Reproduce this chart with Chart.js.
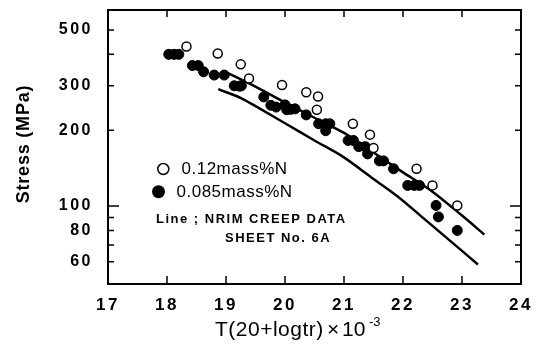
<!DOCTYPE html>
<html>
<head>
<meta charset="utf-8">
<script src="https://cdn.jsdelivr.net/npm/chart.js@4"></script>
<style>
  html, body { margin: 0; padding: 0; background: #fff; }
  #wrap { width: 540px; height: 345px; }
</style>
</head>
<body>
<div id="wrap"><canvas id="creepChart"></canvas></div>
<script>
// 0.12mass%N (open circles)
const openX = [18.33, 18.86, 19.25, 19.39, 19.95, 20.36, 20.56, 20.54, 21.15, 21.44, 21.5, 22.23, 22.5, 22.92];
const openY = [430, 403, 365, 321, 302, 283, 272, 241, 212, 192, 170, 140.5, 120.7, 100.5];

// 0.085mass%N (filled circles)
const filledX = [18.03, 18.12, 18.2, 18.43, 18.53, 18.62, 18.8, 18.97, 19.14, 19.23, 19.26, 19.64, 19.76, 19.85,
    20.0, 20.03, 20.1, 20.17, 20.36, 20.57, 20.69, 20.76, 20.69, 21.07, 21.16, 21.25, 21.36, 21.4,
    21.6, 21.67, 21.84, 22.08, 22.19, 22.28, 22.56, 22.6, 22.92];
const filledY = [400, 400, 400, 361, 361, 341, 331, 331, 300, 299, 300, 271, 251, 247,
    252, 241, 242, 243, 230, 212, 212, 212, 199, 182, 182, 172, 172, 161,
    151, 151, 140.5, 120.7, 120.7, 120.7, 100.5, 90.5, 80];

// NRIM creep data sheet No. 6A lines
const upperX = [18.95, 19.35, 20.0, 20.5, 21.0, 21.5, 22.0, 22.5, 23.0, 23.38];
const upperY = [344, 310, 258, 224, 195, 163, 136, 114, 91.6, 77];
const lowerX = [18.87, 19.27, 20.0, 20.5, 20.98, 21.5, 21.92, 22.29, 22.8, 23.27];
const lowerY = [291, 267, 213, 182, 157, 128, 108.6, 91.8, 72.7, 58.6];

const xTicks = [17, 18, 19, 20, 21, 22, 23, 24];
const yTicks = [60, 70, 80, 90, 100, 200, 300, 400, 500];
const yLabeled = [60, 80, 100, 200, 300, 500];

const FONT = "'Liberation Sans', Arial, sans-serif";

function pts(xs, ys) {
    return xs.map((x, i) => ({ x: x, y: ys[i] }));
}

const frameAndNotes = {
    id: "frameAndNotes",
    beforeDraw(chart) {
        chart.ctx.letterSpacing = "2.5px";
    },
    afterDraw(chart) {
        const ctx = chart.ctx;
        const a = chart.chartArea;
        const xs = chart.scales.x;
        const ys = chart.scales.y;
        ctx.letterSpacing = "0px";
        ctx.save();
        ctx.strokeStyle = "#000";
        ctx.lineWidth = 2;
        ctx.strokeRect(a.left, a.top, a.right - a.left, a.bottom - a.top);

        // inward ticks
        ctx.lineWidth = 1.5;
        ctx.beginPath();
        xTicks.forEach(v => {
            const px = xs.getPixelForValue(v);
            ctx.moveTo(px, a.bottom); ctx.lineTo(px, a.bottom - 8);
            ctx.moveTo(px, a.top); ctx.lineTo(px, a.top + 7);
        });
        yTicks.forEach(v => {
            const py = ys.getPixelForValue(v);
            const len = v === 100 ? 11 : 6;
            ctx.moveTo(a.left, py); ctx.lineTo(a.left + len, py);
            ctx.moveTo(a.right, py); ctx.lineTo(a.right - len, py);
        });
        ctx.stroke();

        // legend
        ctx.beginPath();
        ctx.arc(163.3, 169, 5.5, 0, Math.PI * 2);
        ctx.fillStyle = "#fff";
        ctx.fill();
        ctx.lineWidth = 1.5;
        ctx.stroke();
        ctx.beginPath();
        ctx.arc(158.5, 191.7, 6.5, 0, Math.PI * 2);
        ctx.fillStyle = "#000";
        ctx.fill();

        ctx.fillStyle = "#000";
        ctx.textAlign = "left";
        ctx.textBaseline = "middle";
        ctx.letterSpacing = "0.5px";
        ctx.font = "17px " + FONT;
        ctx.fillText("0.12mass%N", 181.5, 169.5);
        ctx.fillText("0.085mass%N", 176.5, 192);
        ctx.letterSpacing = "1.5px";
        ctx.font = "bold 13px " + FONT;
        ctx.fillText("Line ; NRIM CREEP DATA", 156, 219.5);
        ctx.fillText("SHEET No. 6A", 225, 238.5);

        // x axis title with superscript
        ctx.textBaseline = "alphabetic";
        ctx.letterSpacing = "0.5px";
        ctx.font = "21px " + FONT;
        ctx.fillText("T(20+logtr)", 215, 336);
        ctx.letterSpacing = "0px";
        ctx.fillText("\u00d7", 327, 336);
        ctx.fillText("10", 342, 336);
        ctx.font = "13px " + FONT;
        ctx.fillText("-3", 369, 326);

        // y axis title
        ctx.save();
        ctx.translate(24, 144);
        ctx.rotate(-Math.PI / 2);
        ctx.textAlign = "center";
        ctx.textBaseline = "middle";
        ctx.letterSpacing = "0.8px";
        ctx.font = "bold 18px " + FONT;
        ctx.fillText("Stress (MPa)", 0, 0);
        ctx.restore();

        ctx.restore();
    }
};

const creepChart = new Chart(document.getElementById("creepChart"), {
    type: "scatter",
    data: {
        datasets: [
            {
                label: "0.12mass%N",
                data: pts(openX, openY),
                backgroundColor: "#fff",
                borderColor: "#000",
                borderWidth: 1.5,
                pointRadius: 4.5,
            },
            {
                label: "0.085mass%N",
                data: pts(filledX, filledY),
                backgroundColor: "#000",
                borderColor: "#000",
                borderWidth: 1,
                pointRadius: 5,
            },
            {
                label: "NRIM upper",
                data: pts(upperX, upperY),
                showLine: true,
                borderColor: "#000",
                borderWidth: 2.5,
                pointRadius: 0,
                tension: 0.3,
            },
            {
                label: "NRIM lower",
                data: pts(lowerX, lowerY),
                showLine: true,
                borderColor: "#000",
                borderWidth: 2.5,
                pointRadius: 0,
                tension: 0.3,
            },
        ],
    },
    options: {
        responsive: true,
        maintainAspectRatio: false,
        animation: false,
        layout: { padding: { left: 0, top: 10, right: 19, bottom: 0 } },
        plugins: {
            legend: { display: false },
            tooltip: { enabled: false },
        },
        scales: {
            x: {
                type: "linear",
                min: 17,
                max: 24,
                afterFit(s) { s.height = 61; s.paddingLeft = 0; s.paddingRight = 0; },
                afterBuildTicks(s) { s.ticks = xTicks.map(v => ({ value: v })); },
                grid: { display: false, drawTicks: false },
                border: { display: false },
                ticks: {
                    color: "#000",
                    padding: 11,
                    font: { family: FONT, size: 17, weight: "bold" },
                },
            },
            y: {
                type: "logarithmic",
                min: 49,
                max: 600,
                afterFit(s) { s.width = 108; s.paddingTop = 0; s.paddingBottom = 0; },
                afterBuildTicks(s) { s.ticks = yTicks.map(v => ({ value: v })); },
                grid: { display: false, drawTicks: false },
                border: { display: false },
                ticks: {
                    color: "#000",
                    padding: 15,
                    autoSkip: false,
                    font: { family: FONT, size: 16, weight: "bold" },
                    callback: v => (yLabeled.includes(v) ? String(v) : ""),
                },
            },
        },
    },
    plugins: [frameAndNotes],
});
</script>
</body>
</html>
